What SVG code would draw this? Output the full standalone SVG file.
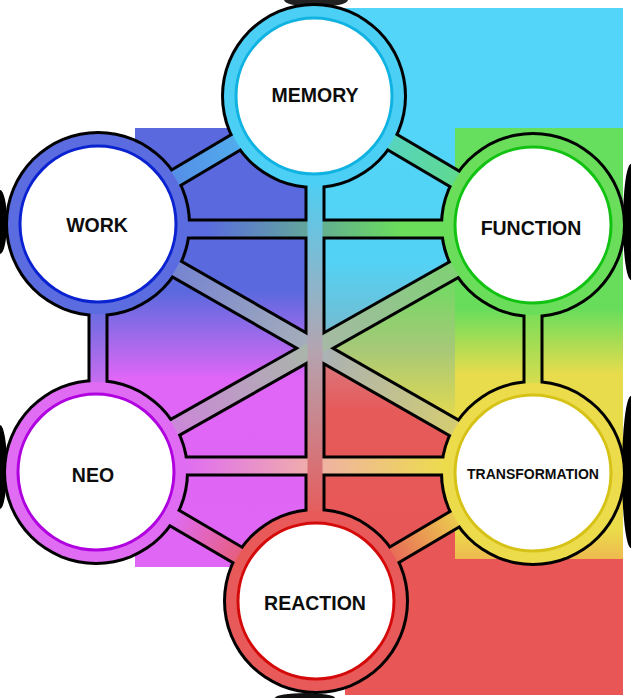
<svg xmlns="http://www.w3.org/2000/svg" width="631" height="698" viewBox="0 0 631 698">
  <style>
    .casing line { stroke: #000; stroke-width: 21; }
    .fill line { stroke-width: 15; }
    .lbl { font-family: "Liberation Sans", Arial, sans-serif; font-weight: bold; text-anchor: middle; fill: #0d0d0d; font-size: 19.5px; }
    .halo { fill: #000; }
    .white { fill: #fff; stroke-width: 3; }
  </style>
  <defs>
    <linearGradient id="bgLeft" gradientUnits="userSpaceOnUse" x1="0" y1="128" x2="0" y2="567">
      <stop offset="0" stop-color="#5a69de"/>
      <stop offset="0.37" stop-color="#5a69de"/>
      <stop offset="0.47" stop-color="#9a6aea"/>
      <stop offset="0.57" stop-color="#df66f6"/>
      <stop offset="1" stop-color="#e066f5"/>
    </linearGradient>
    <linearGradient id="bgCyan" gradientUnits="userSpaceOnUse" x1="0" y1="128" x2="0" y2="347">
      <stop offset="0" stop-color="#52d5f8"/>
      <stop offset="0.6" stop-color="#52d3f6"/>
      <stop offset="1" stop-color="#7cb6c8"/>
    </linearGradient>
    <linearGradient id="bgRight" gradientUnits="userSpaceOnUse" x1="0" y1="128" x2="0" y2="560">
      <stop offset="0" stop-color="#66de5e"/>
      <stop offset="0.42" stop-color="#68dd5c"/>
      <stop offset="0.57" stop-color="#e8dc4c"/>
      <stop offset="0.93" stop-color="#ebdc4a"/>
      <stop offset="1" stop-color="#eeb850"/>
    </linearGradient>
    <linearGradient id="bgTri" gradientUnits="userSpaceOnUse" x1="0" y1="268" x2="0" y2="428">
      <stop offset="0" stop-color="#66de5e"/>
      <stop offset="0.5" stop-color="#a6c878"/>
      <stop offset="1" stop-color="#ebdc4a"/>
    </linearGradient>
    <linearGradient id="bgRed" gradientUnits="userSpaceOnUse" x1="0" y1="347" x2="0" y2="560">
      <stop offset="0" stop-color="#d77f86"/>
      <stop offset="0.3" stop-color="#e65a5a"/>
      <stop offset="1" stop-color="#e85656"/>
    </linearGradient>
    <linearGradient id="gMW" gradientUnits="userSpaceOnUse" x1="314" y1="96" x2="98" y2="224"><stop offset="0" stop-color="#4ccff4"/><stop offset="1" stop-color="#5a6cdf"/></linearGradient>
    <linearGradient id="gMF" gradientUnits="userSpaceOnUse" x1="314" y1="96" x2="533" y2="225"><stop offset="0" stop-color="#4ccff4"/><stop offset="1" stop-color="#6ade5a"/></linearGradient>
    <linearGradient id="gWF" gradientUnits="userSpaceOnUse" x1="98" y1="229" x2="533" y2="229"><stop offset="0.25" stop-color="#5a6cdf"/><stop offset="0.7" stop-color="#6ade5a"/></linearGradient>
    <linearGradient id="gMR" gradientUnits="userSpaceOnUse" x1="315" y1="180" x2="315" y2="520"><stop offset="0" stop-color="#4ccff4"/><stop offset="0.5" stop-color="#b4a4b0"/><stop offset="1" stop-color="#e85a5a"/></linearGradient>
    <linearGradient id="gWN" gradientUnits="userSpaceOnUse" x1="98" y1="300" x2="98" y2="400"><stop offset="0" stop-color="#5a6cdf"/><stop offset="1" stop-color="#df6cf3"/></linearGradient>
    <linearGradient id="gFT" gradientUnits="userSpaceOnUse" x1="533" y1="300" x2="533" y2="400"><stop offset="0" stop-color="#6ade5a"/><stop offset="1" stop-color="#ecdc4c"/></linearGradient>
    <linearGradient id="gWT" gradientUnits="userSpaceOnUse" x1="98" y1="224" x2="533" y2="473"><stop offset="0" stop-color="#5a6cdf"/><stop offset="0.5" stop-color="#a8b0b8"/><stop offset="1" stop-color="#ecdc4c"/></linearGradient>
    <linearGradient id="gFN" gradientUnits="userSpaceOnUse" x1="533" y1="225" x2="96" y2="472"><stop offset="0" stop-color="#6ade5a"/><stop offset="0.5" stop-color="#a8b8a8"/><stop offset="1" stop-color="#df6cf3"/></linearGradient>
    <linearGradient id="gNT" gradientUnits="userSpaceOnUse" x1="96" y1="466" x2="533" y2="466"><stop offset="0.2" stop-color="#df6cf3"/><stop offset="0.5" stop-color="#f0b0a8"/><stop offset="0.8" stop-color="#ecdc4c"/></linearGradient>
    <linearGradient id="gNR" gradientUnits="userSpaceOnUse" x1="96" y1="472" x2="316" y2="601"><stop offset="0.35" stop-color="#df6cf3"/><stop offset="0.75" stop-color="#e85a5a"/></linearGradient>
    <linearGradient id="gRT" gradientUnits="userSpaceOnUse" x1="316" y1="601" x2="533" y2="473"><stop offset="0.3" stop-color="#e85a5a"/><stop offset="0.7" stop-color="#ecdc4c"/></linearGradient>
  </defs>

  <rect x="0" y="0" width="631" height="698" fill="#fff"/>

  <g id="background">
    <rect x="314" y="8" width="309" height="121" fill="#52d5f8"/>
    <rect x="314" y="128" width="141" height="219" fill="url(#bgCyan)"/>
    <rect x="455" y="128" width="168" height="432" fill="url(#bgRight)"/>
    <rect x="314" y="347" width="141" height="213" fill="url(#bgRed)"/>
    <polygon points="315,347 455,268 455,428" fill="url(#bgTri)"/>
    <rect x="345" y="559" width="278" height="136" fill="#e85656"/>
    <path d="M135,128 H315 V567 H135 V420 H108 V300 H135 Z" fill="url(#bgLeft)"/>
  </g>

  <g id="halos">
    <ellipse cx="316" cy="0" rx="32" ry="7" fill="#222"/>
    <ellipse cx="305" cy="698" rx="30" ry="5" fill="#111"/>
    <ellipse class="halo" cx="0" cy="222" rx="7" ry="32"/>
    <ellipse class="halo" cx="0" cy="467" rx="7" ry="42"/>
    <ellipse class="halo" cx="631" cy="222" rx="8" ry="58"/>
    <ellipse class="halo" cx="631" cy="472" rx="9" ry="76"/>
    <circle class="halo" cx="314" cy="96" r="93"/>
    <circle class="halo" cx="98" cy="224" r="93"/>
    <circle class="halo" cx="533" cy="225" r="93"/>
    <circle class="halo" cx="96" cy="472" r="93"/>
    <circle class="halo" cx="533" cy="473" r="93"/>
    <circle class="halo" cx="316" cy="601" r="93"/>
  </g>

  <g id="connectors">
    <g class="casing">
      <line x1="314" y1="96" x2="98" y2="224"/>
      <line x1="314" y1="96" x2="533" y2="225"/>
      <line x1="98" y1="229" x2="533" y2="229"/>
      <line x1="315" y1="96" x2="315" y2="601"/>
      <line x1="98" y1="224" x2="98" y2="472"/>
      <line x1="533" y1="225" x2="533" y2="473"/>
      <line x1="98" y1="224" x2="533" y2="473"/>
      <line x1="533" y1="225" x2="96" y2="472"/>
      <line x1="96" y1="466" x2="533" y2="466"/>
      <line x1="96" y1="472" x2="316" y2="601"/>
      <line x1="316" y1="601" x2="533" y2="473"/>
    </g>
    <g class="fill">
      <line x1="314" y1="96" x2="98" y2="224" stroke="url(#gMW)"/>
      <line x1="314" y1="96" x2="533" y2="225" stroke="url(#gMF)"/>
      <line x1="98" y1="229" x2="533" y2="229" stroke="url(#gWF)"/>
      <line x1="98" y1="224" x2="533" y2="473" stroke="url(#gWT)"/>
      <line x1="533" y1="225" x2="96" y2="472" stroke="url(#gFN)"/>
      <line x1="96" y1="466" x2="533" y2="466" stroke="url(#gNT)"/>
      <line x1="315" y1="96" x2="315" y2="601" stroke="url(#gMR)"/>
      <line x1="98" y1="224" x2="98" y2="472" stroke="url(#gWN)"/>
      <line x1="533" y1="225" x2="533" y2="473" stroke="url(#gFT)"/>
      <line x1="96" y1="472" x2="316" y2="601" stroke="url(#gNR)"/>
      <line x1="316" y1="601" x2="533" y2="473" stroke="url(#gRT)"/>
    </g>
  </g>

  <g id="node-memory">
    <circle cx="314" cy="96" r="90" fill="#4ccff4"/>
    <circle class="white" cx="314" cy="96" r="78" stroke="#10b2e2"/>
    <text class="lbl" x="315" y="102">MEMORY</text>
  </g>
  <g id="node-work">
    <circle cx="98" cy="224" r="90" fill="#5a6cdf"/>
    <circle class="white" cx="98" cy="224" r="78" stroke="#0a22d0"/>
    <text class="lbl" x="97" y="232">WORK</text>
  </g>
  <g id="node-function">
    <circle cx="533" cy="225" r="90" fill="#6ade5a"/>
    <circle class="white" cx="533" cy="225" r="78" stroke="#12c212"/>
    <text class="lbl" x="531" y="235">FUNCTION</text>
  </g>
  <g id="node-neo">
    <circle cx="96" cy="472" r="90" fill="#df6cf3"/>
    <circle class="white" cx="96" cy="472" r="78" stroke="#b000e0"/>
    <text class="lbl" x="93" y="482">NEO</text>
  </g>
  <g id="node-transformation">
    <circle cx="533" cy="473" r="90" fill="#ecdc4c"/>
    <circle class="white" cx="533" cy="473" r="78" stroke="#d6c216"/>
    <text class="lbl" x="533" y="479" style="font-size:14px">TRANSFORMATION</text>
  </g>
  <g id="node-reaction">
    <circle cx="316" cy="601" r="90" fill="#e85a5a"/>
    <circle class="white" cx="316" cy="601" r="78" stroke="#d40a0a"/>
    <text class="lbl" x="315" y="610">REACTION</text>
  </g>
</svg>
